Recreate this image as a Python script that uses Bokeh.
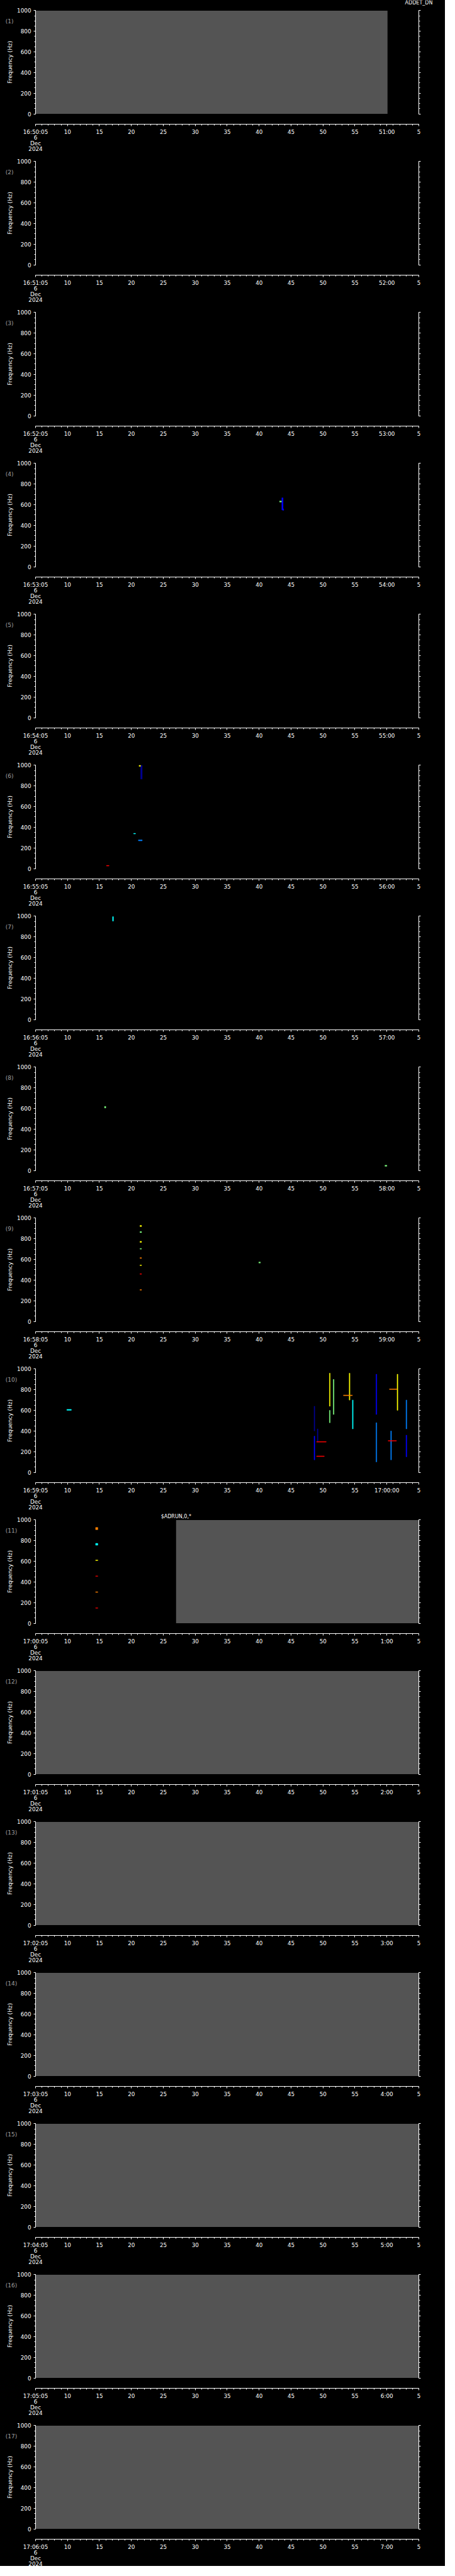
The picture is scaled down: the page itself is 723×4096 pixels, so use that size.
import math
from bokeh.plotting import figure
from bokeh.layouts import column
from bokeh.models import Range1d, LinearAxis, FixedTicker, Label, ColumnDataSource
from bokeh.transform import linear_cmap
from bokeh.embed import file_html
from bokeh.resources import INLINE

# ---------------- data ----------------
panel_starts = ["16:50:05", "16:51:05", "16:52:05", "16:53:05", "16:54:05", "16:55:05",
                "16:56:05", "16:57:05", "16:58:05", "16:59:05", "17:00:05", "17:01:05",
                "17:02:05", "17:03:05", "17:04:05", "17:05:05", "17:06:05"]
minute_labels = ["51:00", "52:00", "53:00", "54:00", "55:00", "56:00", "57:00", "58:00",
                 "59:00", "17:00:00", "1:00", "2:00", "3:00", "4:00", "5:00", "6:00", "7:00"]
mid_labels = ["10", "15", "20", "25", "30", "35", "40", "45", "50", "55"]
end_label = "5"
date_lines = ["6", "Dec", "2024"]
tick_seconds = [0, 5, 10, 15, 20, 25, 30, 35, 40, 45, 50, 55, 60]
minor_seconds = list(range(0, 61))
freq_ticks = [0, 200, 400, 600, 800, 1000]
freq_minor = list(range(0, 1001, 50))
freq_title = "Frequency (Hz)"

# no-data (grey) intervals: panel, start s, end s
nodata_panel = [1, 11, 12, 13, 14, 15, 16, 17]
nodata_t0 = [0.0, 22.0, 0.0, 0.0, 0.0, 0.0, 0.0, 0.0]
nodata_t1 = [55.1, 60.0, 60.0, 60.0, 60.0, 60.0, 60.0, 60.0]

# event annotations
event_panel = [1, 11]
event_t = [60.0, 22.0]
event_f = [1074, 1030]
event_text = ["ADDET_DN", "$ADRUN,0,*"]

# spectrogram spots: panel, t0, t1, f0, f1, intensity level (0..8)
spot_panel = [4, 4, 4,
              6, 6, 6, 6, 6,
              7,
              8, 8,
              9, 9, 9, 9, 9, 9, 9, 9, 9,
              10, 10, 10, 10, 10, 10, 10, 10, 10, 10, 10, 10, 10, 10, 10, 10, 10, 10, 10, 10,
              11, 11, 11, 11, 11, 11]
spot_t0 = [38.55, 38.2, 38.7,
           16.45, 16.2, 15.35, 16.1, 11.1,
           12.05,
           10.8, 54.7,
           16.35, 16.35, 16.35, 16.35, 16.35, 16.35, 16.35, 16.35, 34.95,
           4.9, 43.6, 44.1, 46.0, 46.6, 44.0, 44.0, 49.1, 49.6, 48.2, 53.3, 55.6, 56.6, 58.0, 55.2, 55.4,
           43.6, 46.0, 53.3, 58.0,
           9.4, 9.4, 9.4, 9.4, 9.4, 9.4]
spot_t1 = [38.75, 38.5, 38.85,
           16.7, 16.45, 15.65, 16.7, 11.5,
           12.2,
           11.0, 55.0,
           16.6, 16.6, 16.6, 16.6, 16.6, 16.6, 16.6, 16.6, 35.2,
           5.6, 43.72, 44.22, 46.12, 46.72, 45.5, 45.2, 49.22, 49.72, 49.6, 53.42, 55.72, 56.72, 58.12, 56.5, 56.6,
           43.72, 46.12, 53.42, 58.12,
           9.75, 9.75, 9.75, 9.75, 9.75, 9.75]
spot_f0 = [550, 626, 545,
           867, 990, 335, 268, 24,
           953,
           605, 40,
           918, 860, 765, 700, 610, 540, 456, 302, 565,
           600, 120, 300, 640, 560, 292, 152, 700, 420, 742, 560, 120, 600, 150, 302, 802,
           400, 480, 100, 420,
           906, 756, 607, 454, 299, 145]
spot_f1 = [667, 636, 560,
           1000, 1000, 341, 278, 30,
           996,
           620, 50,
           930, 870, 775, 706, 617, 546, 462, 308, 575,
           610, 350, 420, 960, 900, 298, 158, 960, 700, 748, 950, 400, 950, 360, 308, 808,
           640, 600, 480, 700,
           928, 774, 612, 458, 304, 149]
spot_level = [1, 4, 1,
              0, 5, 3, 2, 7,
              3,
              4, 4,
              5, 4, 5, 4, 6, 5, 7, 6, 4,
              3, 1, 0, 5, 4, 7, 7, 5, 3, 6, 1, 2, 5, 1, 7, 6,
              0, 4, 2, 2,
              6, 3, 5, 7, 6, 7]

palette = ["#000090", "#0000ff", "#0080ff", "#00ffff", "#80ff80",
           "#ffff00", "#ff8000", "#ff0000", "#900000"]

# ---------------- layout constants ----------------
W, H = 707, 240
FONT = "DejaVu Sans"
FS = "8.8px"
X_LO, X_HI = -5.517, 64.138        # visible time span (s) incl. margins
Y_LO, Y_HI = -362.6, 1100.0        # visible frequency span incl. margins
AXIS_Y = -103                      # where the time axis sits
date_step = 53.5                   # data units per text line below the time axis


def make_panel(k):
    i = k - 1
    p = figure(width=W, height=H, x_range=Range1d(X_LO, X_HI), y_range=Range1d(Y_LO, Y_HI),
               output_backend="svg", toolbar_location=None,
               background_fill_color="black", border_fill_color="black",
               outline_line_color=None,
               min_border_left=0, min_border_right=0, min_border_top=0, min_border_bottom=0)
    p.grid.visible = False

    # grey no-data areas
    sel = [j for j in range(len(nodata_panel)) if nodata_panel[j] == k]
    if sel:
        src = ColumnDataSource(dict(l=[nodata_t0[j] for j in sel], r=[nodata_t1[j] for j in sel],
                                    b=[0] * len(sel), t=[1000] * len(sel)))
        p.quad(left="l", right="r", bottom="b", top="t", source=src,
               fill_color="#545454", line_color=None)

    # spots
    sel = [j for j in range(len(spot_panel)) if spot_panel[j] == k]
    if sel:
        src = ColumnDataSource(dict(l=[spot_t0[j] for j in sel], r=[spot_t1[j] for j in sel],
                                    b=[spot_f0[j] for j in sel], t=[spot_f1[j] for j in sel],
                                    lev=[spot_level[j] for j in sel]))
        cm = linear_cmap("lev", palette, -0.5, 8.5)
        p.quad(left="l", right="r", bottom="b", top="t", source=src,
               fill_color=cm, line_color=cm, line_width=0.5)

    # x axis (time), pinned below the data area
    xa = p.xaxis[0]
    xa.ticker = FixedTicker(ticks=tick_seconds, minor_ticks=minor_seconds)
    labels = [panel_starts[i]] + mid_labels + [minute_labels[i], end_label]
    xa.major_label_overrides = {t: lab for t, lab in zip(tick_seconds, labels)}
    xa.fixed_location = AXIS_Y
    xa.bounds = (0, 60)
    # y axes pinned to the data edges
    ya = p.yaxis[0]
    ya.ticker = FixedTicker(ticks=freq_ticks, minor_ticks=freq_minor)
    ya.bounds = (0, 1000)
    ya.fixed_location = 0
    ra = LinearAxis(ticker=FixedTicker(ticks=freq_ticks, minor_ticks=freq_minor),
                    bounds=(0, 1000), fixed_location=60)
    ra.major_label_overrides = {t: "" for t in freq_ticks}
    p.add_layout(ra, "right")

    for ax in [xa, ya, ra]:
        ax.axis_line_color = "white"
        ax.axis_line_width = 1
        ax.major_tick_line_color = "white"
        ax.minor_tick_line_color = "white"
        ax.major_tick_in = 0
        ax.minor_tick_in = 0
        ax.major_tick_out = 3
        ax.minor_tick_out = 2
        ax.major_label_text_color = "white"
        ax.major_label_text_font = FONT
        ax.major_label_text_font_size = FS
    xa.major_label_standoff = 4
    ya.major_label_standoff = 4

    # frequency title (rotated, centred on 0..1000)
    p.add_layout(Label(x=-3.96, y=500, text=freq_title, angle=math.pi / 2,
                       text_color="white", text_font=FONT, text_font_size="9px",
                       text_align="center", text_baseline="middle"))
    # date lines under first tick
    for n, txt in enumerate(date_lines):
        p.add_layout(Label(x=0, y=AXIS_Y - 128 - n * date_step, text=txt, text_color="white",
                           text_font=FONT, text_font_size=FS,
                           text_align="center", text_baseline="middle"))
    # panel number
    p.add_layout(Label(x=-4.7, y=898, text="(%d)" % k, text_color="#a0a0a0",
                       text_font=FONT, text_font_size="9px",
                       text_align="left", text_baseline="middle"))
    # events
    for j in range(len(event_panel)):
        if event_panel[j] == k:
            p.add_layout(Label(x=event_t[j], y=event_f[j], text=event_text[j], text_color="white",
                               text_font=FONT, text_font_size="8px",
                               text_align="center", text_baseline="middle"))
    return p


panels = [make_panel(k) for k in range(1, 18)]
layout = column(*panels, spacing=0, background="black")
open("out.html", "w").write(file_html(layout, INLINE))
